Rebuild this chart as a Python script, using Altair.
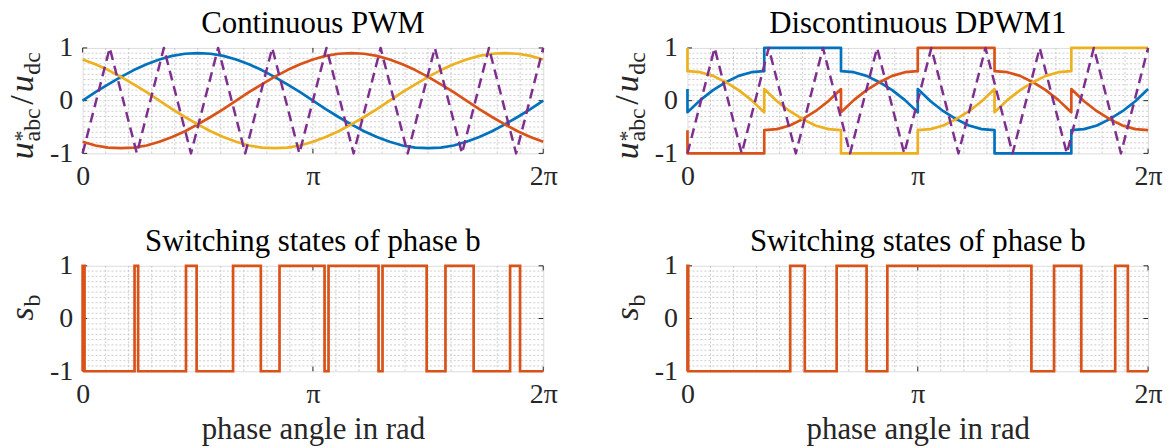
import altair as alt
import pandas as pd

# ---------------- data (angles in degrees, 360 = 2*pi) ----------------
theta_c = [0, 10, 20, 30, 40, 50, 60, 70, 80, 90, 100, 110, 120, 130, 140, 150, 160, 170, 180,
           190, 200, 210, 220, 230, 240, 250, 260, 270, 280, 290, 300, 310, 320, 330, 340, 350, 360]
cont_a = [0, 0.16, 0.31, 0.45, 0.58, 0.69, 0.78, 0.85, 0.89, 0.90, 0.89, 0.85, 0.78, 0.69, 0.58, 0.45, 0.31, 0.16, 0,
          -0.16, -0.31, -0.45, -0.58, -0.69, -0.78, -0.85, -0.89, -0.90, -0.89, -0.85, -0.78, -0.69, -0.58, -0.45, -0.31, -0.16, 0]
cont_b = [-0.78, -0.85, -0.89, -0.90, -0.89, -0.85, -0.78, -0.69, -0.58, -0.45, -0.31, -0.16, 0, 0.16, 0.31, 0.45, 0.58, 0.69, 0.78,
          0.85, 0.89, 0.90, 0.89, 0.85, 0.78, 0.69, 0.58, 0.45, 0.31, 0.16, 0, -0.16, -0.31, -0.45, -0.58, -0.69, -0.78]
cont_c = [0.78, 0.69, 0.58, 0.45, 0.31, 0.16, 0, -0.16, -0.31, -0.45, -0.58, -0.69, -0.78, -0.85, -0.89, -0.90, -0.89, -0.85, -0.78,
          -0.69, -0.58, -0.45, -0.31, -0.16, 0, 0.16, 0.31, 0.45, 0.58, 0.69, 0.78, 0.85, 0.89, 0.90, 0.89, 0.85, 0.78]

theta_d = [0, 0, 10, 20, 30, 40, 50, 60, 60, 70, 80, 90, 100, 110, 120, 120, 130, 140, 150, 160, 170, 180,
           180, 190, 200, 210, 220, 230, 240, 240, 250, 260, 270, 280, 290, 300, 300, 310, 320, 330, 340, 350, 360]
dpwm_a = [0.22, -0.22, 0.01, 0.20, 0.35, 0.47, 0.54, 0.56, 1, 1, 1, 1, 1, 1, 1,
          0.56, 0.54, 0.47, 0.35, 0.20, 0.01, -0.22, 0.22, -0.01, -0.20, -0.35, -0.47, -0.54, -0.56,
          -1, -1, -1, -1, -1, -1, -1, -0.56, -0.54, -0.47, -0.35, -0.20, -0.01, 0.22]
dpwm_b = [-0.56, -1, -1, -1, -1, -1, -1, -1, -0.56, -0.54, -0.47, -0.35, -0.20, -0.01, 0.22,
          -0.22, 0.01, 0.20, 0.35, 0.47, 0.54, 0.56, 1, 1, 1, 1, 1, 1, 1,
          0.56, 0.54, 0.47, 0.35, 0.20, 0.01, -0.22, 0.22, -0.01, -0.20, -0.35, -0.47, -0.54, -0.56]
dpwm_c = [1, 0.56, 0.54, 0.47, 0.35, 0.20, 0.01, -0.22, 0.22, -0.01, -0.20, -0.35, -0.47, -0.54, -0.56,
          -1, -1, -1, -1, -1, -1, -1, -0.56, -0.54, -0.47, -0.35, -0.20, -0.01, 0.22,
          -0.22, 0.01, 0.20, 0.35, 0.47, 0.54, 0.56, 1, 1, 1, 1, 1, 1, 1]

carrier_theta = [0.0, 21.2, 42.4, 63.5, 84.7, 105.9, 127.1, 148.2, 169.4, 190.6, 211.8, 232.9,
                 254.1, 275.3, 296.5, 317.6, 338.8, 360.0]
carrier_val = [-1, 1, -1, 1, -1, 1, -1, 1, -1, 1, -1, 1, -1, 1, -1, 1, -1, 1]

sb_cont_theta = [0, 0, 1.5, 40.6, 43.4, 80.8, 89.1, 117.6, 139.3, 153.9, 189.1, 192.2, 231.3,
                 234.4, 268.9, 283.6, 305.6, 334.1, 341.9, 360]
sb_cont_state = [-1, 1, -1, 1, -1, 1, -1, 1, -1, 1, -1, 1, -1, 1, -1, 1, -1, 1, -1, -1]
sb_dpwm_theta = [0, 0, 0.6, 80.3, 91.7, 116.6, 140.0, 156.2, 268.8, 286.5, 307.8, 334.3, 344.2, 360]
sb_dpwm_state = [-1, 1, -1, 1, -1, 1, -1, 1, -1, 1, -1, 1, -1, -1]

phase_names = ["a", "b", "c"]
phase_colors = ["#0072BD", "#D95319", "#EDB120"]
carrier_color = "#7E2F8E"

x_tick_vals = [0, 180, 360]
x_tick_text = ["0", "π", "2π"]
y_tick_vals = [-1, 0, 1]
y_tick_text = ["-1", "0", "1"]
x_grid = [18, 36, 54, 72, 90, 108, 126, 144, 162, 180, 198, 216, 234, 252, 270, 288, 306, 324, 342]
y_grid = [-0.9, -0.8, -0.7, -0.6, -0.5, -0.4, -0.3, -0.2, -0.1, 0, 0.1, 0.2, 0.3, 0.4, 0.5, 0.6, 0.7, 0.8, 0.9]

# ---------------- style ----------------
W, H = 463, 106
FONT = "Liberation Serif"
TXT = "#262626"
TICK = 4.6
LBL = 28

xs = alt.Scale(domain=[0, 360], nice=False, zero=False)
ys = alt.Scale(domain=[-1, 1], nice=False, zero=False)


def label_expr(vals, texts):
    e = "''"
    for v, t in zip(vals, texts):
        e = f"datum.value == {v} ? '{t}' : ({e})"
    return e


def x_axis(title):
    kw = dict(values=x_tick_vals, labelExpr=label_expr(x_tick_vals, x_tick_text), ticks=False,
              domain=False, grid=False, labelFont=FONT, labelFontSize=LBL, labelColor=TXT,
              labelPadding=9, labelFlush=False, labelOverlap=False)
    if title:
        kw.update(title=title, titleFont=FONT, titleFontSize=31, titleFontWeight="normal",
                  titleColor=TXT, titlePadding=7)
    else:
        kw.update(title=None)
    return alt.Axis(**kw)


y_axis = alt.Axis(values=y_tick_vals, labelExpr=label_expr(y_tick_vals, y_tick_text), ticks=False,
                  domain=False, grid=False, labelFont=FONT, labelFontSize=LBL, labelColor=TXT,
                  labelPadding=10, labelFlush=False, labelOverlap=False, title=None)


def txt(s, x, y, size, style="normal"):
    return alt.Chart(pd.DataFrame({"t": [s]})).mark_text(
        font=FONT, fontSize=size, fontStyle=style, angle=270, align="left",
        baseline="alphabetic", color=TXT).encode(text="t:N", x=alt.value(x), y=alt.value(y))


def frame_layers():
    gx = alt.Chart(pd.DataFrame({"g": x_grid})).mark_rule(
        color="#c0c0c0", strokeWidth=0.8, strokeDash=[2, 2]).encode(x=alt.X("g:Q", scale=xs))
    gy = alt.Chart(pd.DataFrame({"g": y_grid})).mark_rule(
        color="#c0c0c0", strokeWidth=0.8, strokeDash=[2, 2]).encode(y=alt.Y("g:Q", scale=ys))
    xt = pd.DataFrame({"v": x_tick_vals})
    yt = pd.DataFrame({"v": y_tick_vals})
    tk = dict(color=TXT, strokeWidth=1)
    t1 = alt.Chart(xt).mark_rule(**tk).encode(x=alt.X("v:Q", scale=xs), y=alt.value(0), y2=alt.value(TICK))
    t2 = alt.Chart(xt).mark_rule(**tk).encode(x=alt.X("v:Q", scale=xs), y=alt.value(H - TICK), y2=alt.value(H))
    t3 = alt.Chart(yt).mark_rule(**tk).encode(y=alt.Y("v:Q", scale=ys), x=alt.value(0), x2=alt.value(TICK))
    t4 = alt.Chart(yt).mark_rule(**tk).encode(y=alt.Y("v:Q", scale=ys), x=alt.value(W - TICK), x2=alt.value(W))
    return [gx, gy, t1, t2, t3, t4]


def u_label():
    bx = -50
    return [txt("u", bx, 112, 34, "italic"), txt("*", bx - 4, 94, 22), txt("abc", bx + 7, 94, 24),
            txt("/", bx, 57, 34), txt("u", bx, 44.5, 34, "italic"), txt("dc", bx + 7, 27, 24)]


def s_label():
    bx = -50
    return [txt("s", bx, 55, 34, "italic"), txt("b", bx + 7, 41, 24)]


def title(t):
    return alt.TitleParams(t, font=FONT, fontSize=31, fontWeight="normal", color="black",
                           anchor="middle", frame="group", offset=-6)


def mod_panel(th, a, b, c, ttl):
    rows = []
    for name, vals in zip(phase_names, [a, b, c]):
        for i, (t, v) in enumerate(zip(th, vals)):
            rows.append({"theta": t, "value": v, "phase": name, "idx": i})
    df = pd.DataFrame(rows)
    lines = alt.Chart(df).mark_line(strokeWidth=2.7, strokeJoin="round").encode(
        x=alt.X("theta:Q", scale=xs, axis=x_axis(None)),
        y=alt.Y("value:Q", scale=ys, axis=y_axis),
        color=alt.Color("phase:N", scale=alt.Scale(domain=phase_names, range=phase_colors), legend=None),
        order="idx:Q")
    cdf = pd.DataFrame({"theta": carrier_theta, "value": carrier_val, "idx": list(range(len(carrier_val)))})
    car = alt.Chart(cdf).mark_line(strokeWidth=2.5, strokeDash=[10, 6], strokeJoin="round",
                                   color=carrier_color).encode(
        x=alt.X("theta:Q", scale=xs, axis=x_axis(None)),
        y=alt.Y("value:Q", scale=ys, axis=y_axis), order="idx:Q")
    return alt.layer(*frame_layers(), lines, car, *u_label()).properties(
        width=W, height=H, title=title(ttl))


def sw_panel(th, st):
    df = pd.DataFrame({"theta": th, "value": st, "idx": list(range(len(st)))})
    ln = alt.Chart(df).mark_line(strokeWidth=2.7, interpolate="step-after", color=phase_colors[1]).encode(
        x=alt.X("theta:Q", scale=xs, axis=x_axis("phase angle in rad")),
        y=alt.Y("value:Q", scale=ys, axis=y_axis), order="idx:Q")
    return alt.layer(*frame_layers(), ln, *s_label()).properties(
        width=W, height=H, title=title("Switching states of phase b"))


chart = alt.concat(
    mod_panel(theta_c, cont_a, cont_b, cont_c, "Continuous PWM"),
    mod_panel(theta_d, dpwm_a, dpwm_b, dpwm_c, "Discontinuous DPWM1"),
    sw_panel(sb_cont_theta, sb_cont_state),
    sw_panel(sb_dpwm_theta, sb_dpwm_state),
    columns=2, spacing=alt.RowColnumber(row=113, column=145), bounds="flush",
).properties(
    padding={"left": -3, "top": -2, "right": 0, "bottom": 0}
).configure_view(stroke="#555555", strokeWidth=1.2).configure(background="white")

chart.save("out.html", embed_options={"renderer": "svg", "actions": False})
